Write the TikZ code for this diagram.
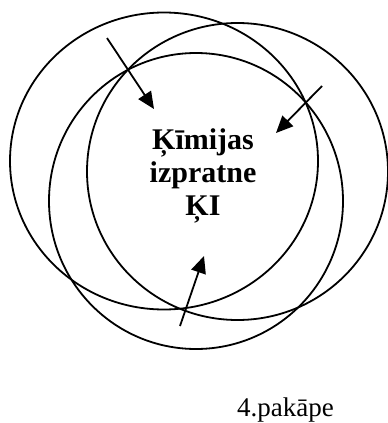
\documentclass[tikz,border=0pt]{standalone}
\usepackage{fontspec}
\setmainfont{Liberation Serif}
\usetikzlibrary{shapes.geometric,arrows.meta,positioning}

\begin{document}
\begin{tikzpicture}[
  x=1pt, y=-1pt,
  ring/.style={draw, ellipse, line width=1.8pt, inner sep=0pt},
  arrow/.style={-{Triangle[length=17pt, width=15pt]}, line width=1.8pt},
  core/.style={align=center, font=\fontsize{30}{33}\selectfont\bfseries},
  stage/.style={anchor=base, font=\fontsize{27}{30}\selectfont}
]
\useasboundingbox (0,0) rectangle (388,423);
\node[ring, minimum width=308pt, minimum height=297pt] (outerA) at (164,161) {};
\node[ring, minimum width=301pt, minimum height=297pt] (outerB) at (237.5,171.5) {};
\node[ring, minimum width=294pt, minimum height=296pt] (inner) at (196,201) {};
\node[core] (idea) at (203,176) {Ķīmijas\\izpratne\\ĶI};
\node[stage] (level) at (285.5,416) {4.pakāpe};
\coordinate (fromNW) at (107,38);
\coordinate (toNW) at (154,109);
\coordinate (fromNE) at (322,86);
\coordinate (toNE) at (276,133);
\coordinate (fromS) at (180,326);
\coordinate (toS) at (204,256);
\draw[arrow] (fromNW) -- (toNW);
\draw[arrow] (fromNE) -- (toNE);
\draw[arrow] (fromS) -- (toS);
\end{tikzpicture}
\end{document}
